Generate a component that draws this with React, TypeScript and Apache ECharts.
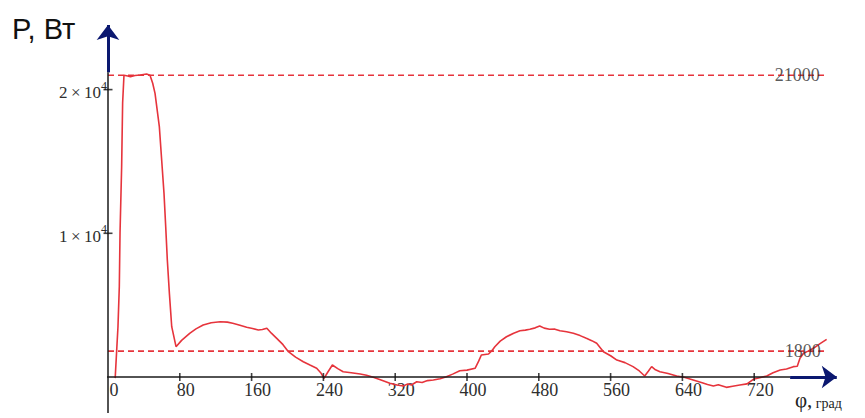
import React, { useEffect, useRef } from 'react';
import * as echarts from 'echarts';

// angle of rotation, degrees
const phi = [
  8, 9.7, 11.1, 12.6, 13.4, 15.2, 16.3, 17.8, 22, 25, 30, 36, 43, 46.8, 49.8, 52.4, 57.2, 59.8, 62.4,
  64.3, 66.1, 68.4, 71, 75.8, 82, 91, 98, 106, 115, 125, 133, 139, 147, 154.5, 161, 167.5, 172, 177,
  182, 188, 195, 201, 209, 217.6, 225, 232.5, 237, 240.7, 245, 250, 256, 262, 271, 281, 288, 295.6,
  305, 314, 322, 329, 334, 338, 344, 350, 356, 362.5, 370, 377, 384, 392, 400, 409, 413, 416, 424,
  428, 431, 437, 444, 452, 459, 465, 470, 476, 481, 486, 492, 498, 503.6, 511, 518.5, 526, 533, 539,
  544.5, 552, 560, 567, 576, 585, 592, 598, 602, 605.7, 610, 615, 624, 633.6, 642, 652, 662, 668,
  674.5, 680, 689, 696, 704, 712, 719, 726, 734, 741, 749, 756, 763.6, 768, 771, 775, 780, 786, 793,
  800.7,
];
// power, W
const power = [
  -80, 1880, 3480, 6280, 10020, 14630, 19070, 21000, 20950, 20900, 20980, 21020, 21080, 21000, 20440,
  19740, 17420, 15100, 12780, 10460, 8140, 5820, 3500, 2110, 2550, 3040, 3350, 3620, 3780, 3850, 3820,
  3740, 3600, 3460, 3380, 3270, 3300, 3390, 3050, 2690, 2250, 1760, 1380, 1060, 830, 605, 300, -90,
  350, 835, 580, 370, 300, 210, 120, -20, -230, -440, -560, -630, -480, -560, -330, -380, -250, -210,
  -120, 20, 200, 440, 480, 605, 1100, 1530, 1600, 1850, 2110, 2500, 2800, 3050, 3220, 3260, 3320,
  3420, 3550, 3400, 3320, 3330, 3220, 3150, 3040, 2880, 2690, 2530, 2350, 1760, 1480, 1180, 1000, 720,
  420, 70, 400, 720, 500, 370, 250, 70, -20, -210, -400, -520, -630, -540, -720, -640, -560, -480,
  -160, -50, 70, 300, 490, 560, 720, 750, 1300, 1650, 1800, 2000, 2300, 2620,
];

const xTicks = [0, 80, 160, 240, 320, 400, 480, 560, 640, 720];
const yTicks = [10000, 20000];
const refLevels = [21000, 1800];
const refLabelPhi = [768, 774];
const refLineEnd = 800;

const RED = '#e6343c';
const NAVY = '#0b1870';
const AXIS = '#1a1a1a';
const SERIF = '"Liberation Serif", "Times New Roman", serif';

export default function App() {
  const ref = useRef<HTMLDivElement>(null);

  useEffect(() => {
    const chart = echarts.init(ref.current!, null, { renderer: 'svg' });
    const curve = phi.map((p, i) => [p, power[i]]);

    const option: any = {
      animation: false,
      backgroundColor: '#ffffff',
      grid: {
        left: 108,
        right: 21.05,
        top: 17.75,
        bottom: 41,
        containLabel: false,
        outerBoundsMode: 'none',
      },
      xAxis: {
        type: 'value',
        min: 0,
        max: 820,
        axisLine: { show: false },
        axisTick: { show: false },
        splitLine: { show: false },
        axisLabel: {
          customValues: xTicks,
          fontFamily: SERIF,
          fontSize: 18,
          color: '#2e2e2e',
          margin: 4,
          padding: [0, 0, 0, 12],
        },
      },
      yAxis: {
        type: 'value',
        min: 0,
        max: 25000,
        axisLine: { show: false },
        axisTick: { show: false },
        splitLine: { show: false },
        axisLabel: {
          customValues: yTicks,
          margin: 1,
          formatter: (v: number) => `{m|${Math.round(v / 10000)}\u2009×\u200910}{s|4}`,
          rich: {
            m: { fontFamily: SERIF, fontSize: 17, color: '#2e2e2e', lineHeight: 20, padding: [6, 0, 0, 0] },
            s: { fontFamily: SERIF, fontSize: 12, color: '#2e2e2e', lineHeight: 12, verticalAlign: 'top' },
          },
        },
      },
      graphic: [
        {
          type: 'text',
          left: 12,
          top: 14,
          style: { text: 'P, Вт', fontFamily: '"Liberation Sans", Arial, sans-serif', fontSize: 29, fill: '#111' },
        },
        {
          type: 'text',
          left: 795,
          top: 389,
          style: {
            text: '{a|φ,} {b|град}',
            rich: {
              a: { fontFamily: SERIF, fontSize: 21, fill: '#222', verticalAlign: 'bottom', lineHeight: 22 },
              b: { fontFamily: SERIF, fontSize: 14, fill: '#222', verticalAlign: 'bottom', lineHeight: 16 },
            },
          },
        },
      ],
      series: [
        {
          name: 'xAxisLine',
          type: 'line',
          data: [[-6, 0], [760, 0]],
          symbol: 'none',
          silent: true,
          clip: false,
          z: 5,
          lineStyle: { color: AXIS, width: 1.5 },
        },
        {
          name: 'yAxisLine',
          type: 'line',
          data: [[0, -2500], [0, 21200]],
          symbol: 'none',
          silent: true,
          clip: false,
          z: 5,
          lineStyle: { color: AXIS, width: 1.5 },
        },
        {
          name: 'ref21000',
          type: 'line',
          data: [[0, refLevels[0]], [refLineEnd, refLevels[0]]],
          symbol: 'none',
          silent: true,
          clip: false,
          z: 2,
          lineStyle: { color: RED, width: 1.6, type: [6, 4] },
        },
        {
          name: 'ref1800',
          type: 'line',
          data: [[0, refLevels[1]], [refLineEnd, refLevels[1]]],
          symbol: 'none',
          silent: true,
          clip: false,
          z: 2,
          lineStyle: { color: RED, width: 1.6, type: [6, 4] },
        },
        {
          name: 'P',
          type: 'line',
          data: curve,
          symbol: 'none',
          clip: false,
          z: 3,
          lineStyle: { color: RED, width: 1.6 },
        },
        {
          name: 'refLabels',
          type: 'scatter',
          data: refLevels.map((v, i) => [refLabelPhi[i], v]),
          symbolSize: 1,
          silent: true,
          clip: false,
          z: 5,
          itemStyle: { color: 'transparent' },
          label: {
            show: true,
            position: 'inside',
            formatter: (p: any) => String(p.value[1]),
            fontFamily: SERIF,
            fontSize: 18,
            color: '#2e2e2e',
          },
        },
        {
          name: 'xTickMarks',
          type: 'scatter',
          data: xTicks.slice(1).map((v) => [v, 0]),
          symbol: 'rect',
          symbolSize: [1.6, 8],
          silent: true,
          clip: false,
          z: 6,
          itemStyle: { color: '#111' },
        },
        {
          name: 'yTickMarks',
          type: 'scatter',
          data: yTicks.map((v) => [0, v]),
          symbol: 'rect',
          symbolSize: [9, 1.6],
          silent: true,
          clip: false,
          z: 6,
          itemStyle: { color: '#111' },
        },
        {
          name: 'axisArrows',
          type: 'line',
          data: [[0, 0]],
          symbol: 'none',
          silent: true,
          clip: false,
          z: 6,
          markLine: {
            silent: true,
            animation: false,
            symbol: ['none', 'none'],
            label: { show: false },
            emphasis: { disabled: true },
            data: [
              [
                { coord: [760, 0], symbol: 'none', lineStyle: { color: NAVY, width: 3, type: 'solid' } },
                { coord: [812, 0], symbol: 'arrow', symbolSize: [17, 15] },
              ],
              [
                { coord: [0, 21200], symbol: 'none', lineStyle: { color: NAVY, width: 3, type: 'solid' } },
                { coord: [0, 24495], symbol: 'arrow', symbolSize: [17, 15] },
              ],
            ],
          },
        },
      ],
    };

    chart.setOption(option);
    return () => chart.dispose();
  }, []);

  return (
    <div
      ref={ref}
      style={{ position: 'fixed', left: 0, top: 0, width: 865, height: 418, background: '#ffffff' }}
    />
  );
}
